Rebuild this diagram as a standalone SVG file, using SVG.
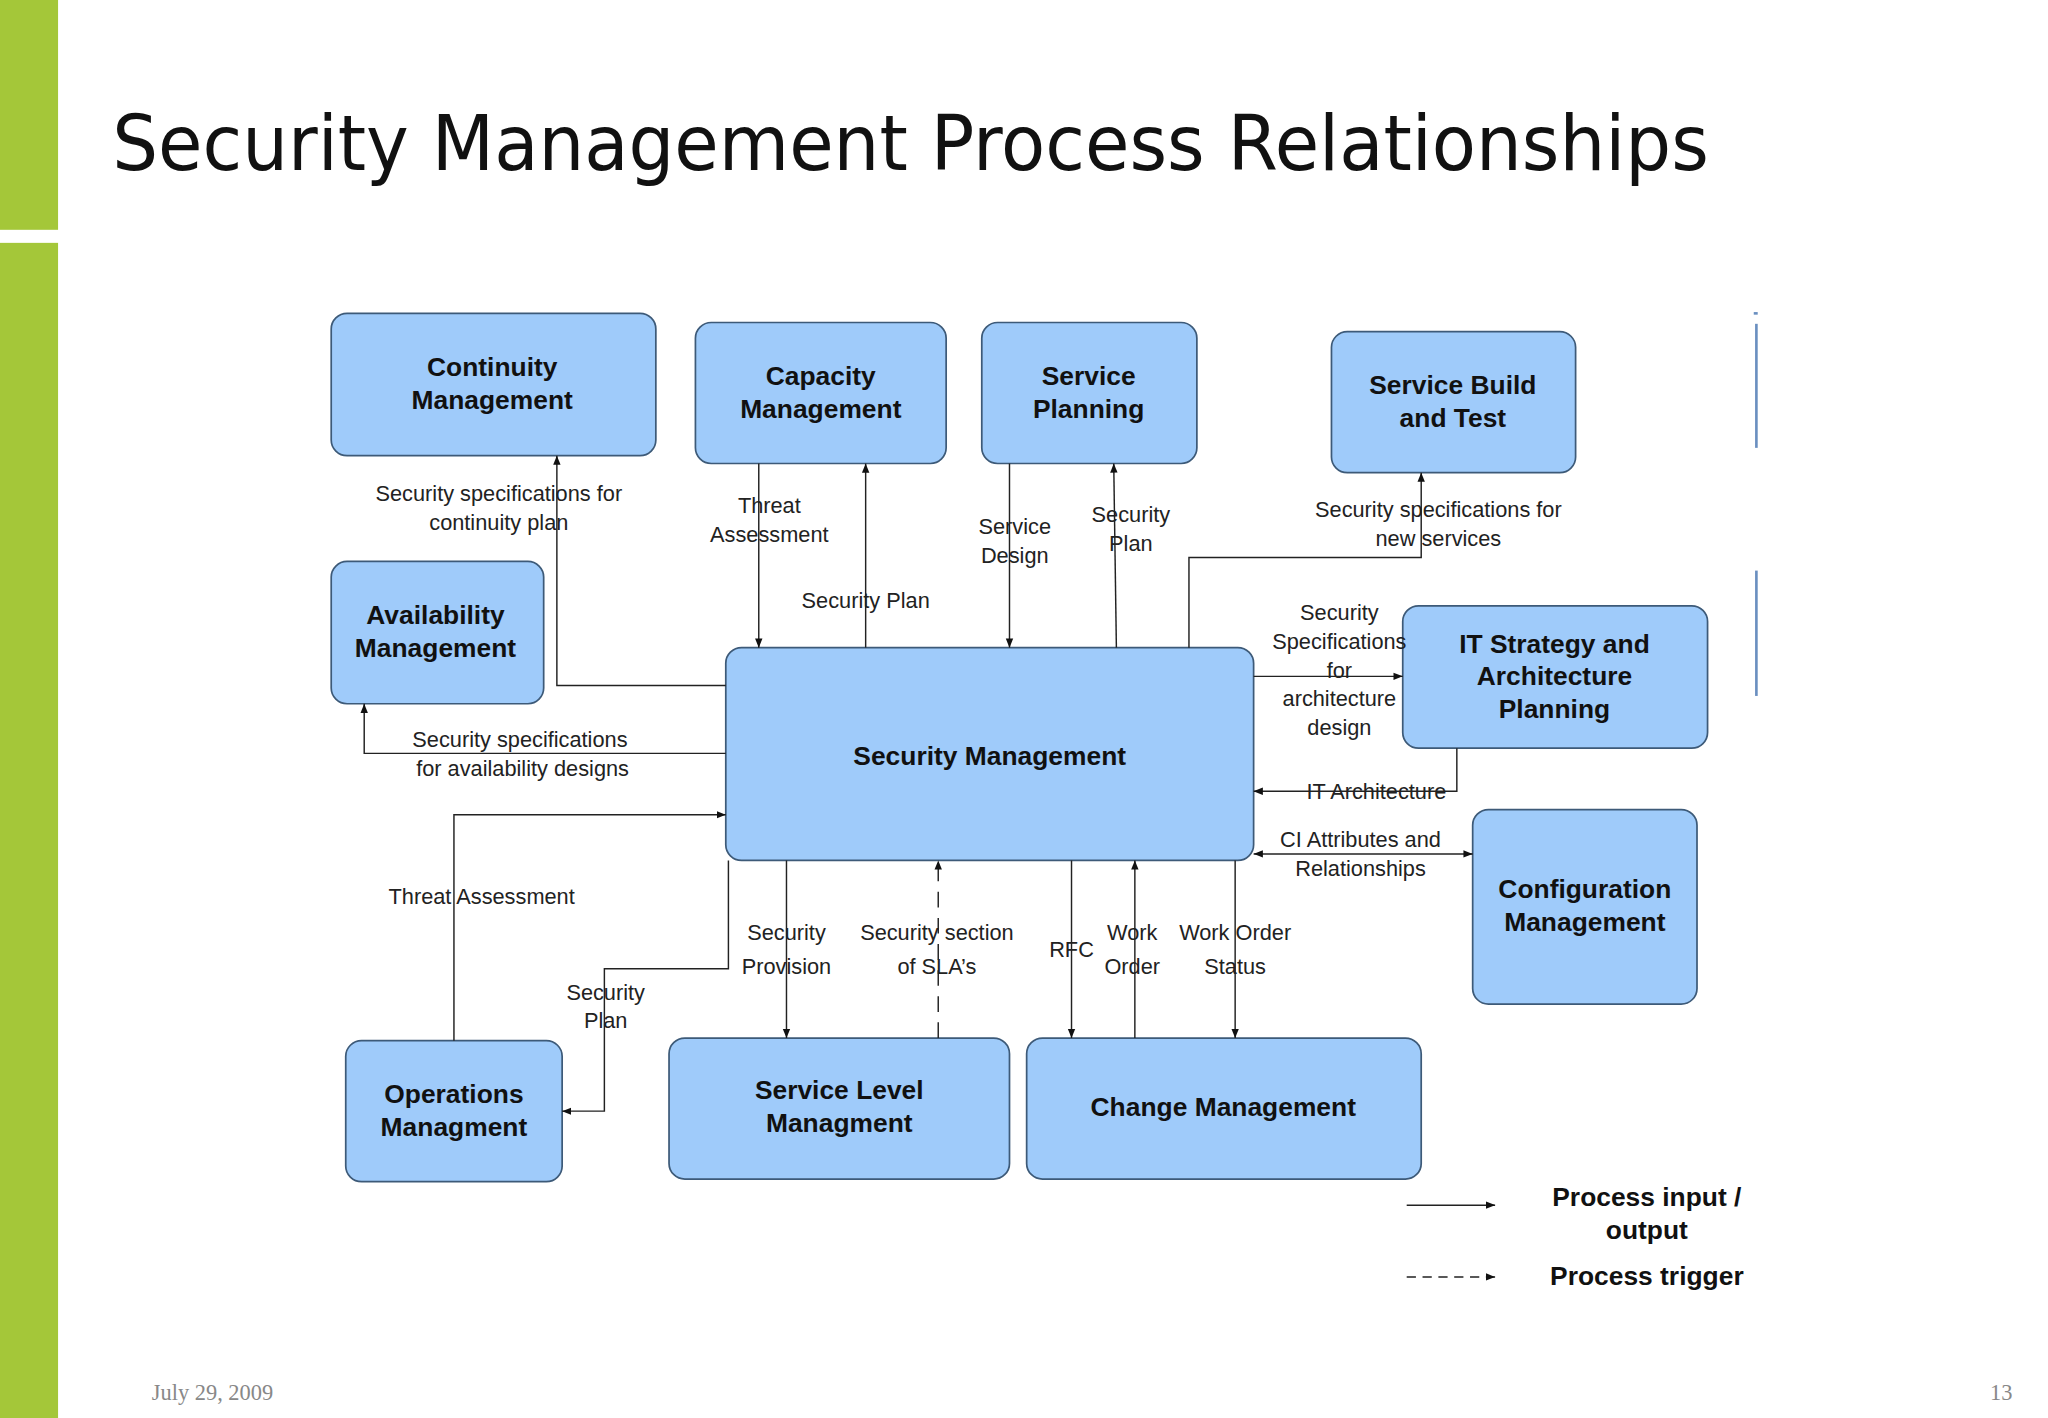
<svg xmlns="http://www.w3.org/2000/svg" width="2048" height="1418" viewBox="0 0 2048 1418">
<defs>
<marker id="ar" viewBox="0 0 10 10" refX="10" refY="5" markerWidth="7" markerHeight="7" orient="auto-start-reverse" markerUnits="userSpaceOnUse"><path d="M0,1 L10,5 L0,9 z" fill="#111"/></marker>
<style>
.box{fill:#9fcbfa;stroke:#3d5a78;stroke-width:1.3}
.bt{font-family:"Liberation Sans",Arial,sans-serif;font-weight:bold;font-size:20px;fill:#111;text-anchor:middle}
.lb{font-family:"Liberation Sans",Arial,sans-serif;font-size:16.5px;fill:#222;text-anchor:middle}
.ln{fill:none;stroke:#222;stroke-width:1.1}
</style>
</defs>
<rect width="2048" height="1418" fill="#fff"/>
<g transform="scale(1.3196,1.3057)">
<rect x="0" y="0" width="44" height="176" fill="#a4c739"/>
<rect x="0" y="186" width="44" height="900" fill="#a4c739"/>
<text x="85" y="130" font-family="'DejaVu Sans',sans-serif" font-size="58" fill="#111" textLength="1210" lengthAdjust="spacingAndGlyphs">Security Management Process Relationships</text>
<text x="115" y="1072" font-family="'Liberation Serif',serif" font-size="17" fill="#888">July 29, 2009</text>
<text x="1508" y="1072" font-family="'Liberation Serif',serif" font-size="17" fill="#888">13</text>
<g stroke="#6a8fc0" stroke-width="2" fill="none"><path d="M1331,248 V343"/><path d="M1331,437 V533"/><path d="M1329,240 h3"/></g>

<g id="continuity"><rect class="box" x="251" y="240" width="246" height="109" rx="12"/><text class="bt" x="373" y="288">Continuity</text><text class="bt" x="373" y="313">Management</text></g>
<g id="capacity"><rect class="box" x="527" y="247" width="190" height="108" rx="12"/><text class="bt" x="622" y="295">Capacity</text><text class="bt" x="622" y="320">Management</text></g>
<g id="planning"><rect class="box" x="744" y="247" width="163" height="108" rx="12"/><text class="bt" x="825" y="295">Service</text><text class="bt" x="825" y="320">Planning</text></g>
<g id="build"><rect class="box" x="1009" y="254" width="185" height="108" rx="12"/><text class="bt" x="1101" y="302">Service Build</text><text class="bt" x="1101" y="327">and Test</text></g>
<g id="availability"><rect class="box" x="251" y="430" width="161" height="109" rx="12"/><text class="bt" x="330" y="478">Availability</text><text class="bt" x="330" y="503">Management</text></g>
<g id="secmgmt"><rect class="box" x="550" y="496" width="400" height="163" rx="12"/><text class="bt" x="750" y="586" font-size="26">Security Management</text></g>
<g id="itstrategy"><rect class="box" x="1063" y="464" width="231" height="109" rx="12"/><text class="bt" x="1178" y="500">IT Strategy and</text><text class="bt" x="1178" y="525">Architecture</text><text class="bt" x="1178" y="550">Planning</text></g>
<g id="config"><rect class="box" x="1116" y="620" width="170" height="149" rx="12"/><text class="bt" x="1201" y="688">Configuration</text><text class="bt" x="1201" y="713">Management</text></g>
<g id="operations"><rect class="box" x="262" y="797" width="164" height="108" rx="12"/><text class="bt" x="344" y="845">Operations</text><text class="bt" x="344" y="870">Managment</text></g>
<g id="slm"><rect class="box" x="507" y="795" width="258" height="108" rx="12"/><text class="bt" x="636" y="842">Service Level</text><text class="bt" x="636" y="867">Managment</text></g>
<g id="change"><rect class="box" x="778" y="795" width="299" height="108" rx="12"/><text class="bt" x="927" y="855">Change Management</text></g>

<g id="connectors">
<path class="ln" d="M550,525 H422 V349" marker-end="url(#ar)"/>
<path class="ln" d="M575,355 V496" marker-end="url(#ar)"/>
<path class="ln" d="M656,496 V355" marker-end="url(#ar)"/>
<path class="ln" d="M765,355 V496" marker-end="url(#ar)"/>
<path class="ln" d="M846,496 L844,355" marker-end="url(#ar)"/>
<path class="ln" d="M901,496 V427 H1077 V362" marker-end="url(#ar)"/>
<path class="ln" d="M950,518 H1063" marker-end="url(#ar)"/>
<path class="ln" d="M1104,573 V606 H950" marker-end="url(#ar)"/>
<path class="ln" d="M950,654 H1116" marker-start="url(#ar)" marker-end="url(#ar)"/>
<path class="ln" d="M550,577 H276 V539" marker-end="url(#ar)"/>
<path class="ln" d="M344,797 V624 H550" marker-end="url(#ar)"/>
<path class="ln" d="M552,659 V742 H458 V851 H426" marker-end="url(#ar)"/>
<path class="ln" d="M596,659 V795" marker-end="url(#ar)"/>
<path class="ln" d="M711,795 V659" stroke-dasharray="12,8" marker-end="url(#ar)"/>
<path class="ln" d="M812,659 V795" marker-end="url(#ar)"/>
<path class="ln" d="M860,795 V659" marker-end="url(#ar)"/>
<path class="ln" d="M936,659 V795" marker-end="url(#ar)"/>
</g>

<g id="labels">
<text class="lb" x="378" y="384">Security specifications for</text><text class="lb" x="378" y="406">continuity plan</text>
<text class="lb" x="583" y="393">Threat</text><text class="lb" x="583" y="415">Assessment</text>
<text class="lb" x="656" y="466">Security Plan</text>
<text class="lb" x="769" y="409">Service</text><text class="lb" x="769" y="431">Design</text>
<text class="lb" x="857" y="400">Security</text><text class="lb" x="857" y="422">Plan</text>
<text class="lb" x="1090" y="396">Security specifications for</text><text class="lb" x="1090" y="418">new services</text>
<text class="lb" x="1015" y="475">Security</text><text class="lb" x="1015" y="497">Specifications</text><text class="lb" x="1015" y="519">for</text><text class="lb" x="1015" y="541">architecture</text><text class="lb" x="1015" y="563">design</text>
<text class="lb" x="1043" y="612">IT Architecture</text>
<text class="lb" x="1031" y="649">CI Attributes and</text><text class="lb" x="1031" y="671">Relationships</text>
<text class="lb" x="394" y="572">Security specifications</text><text class="lb" x="396" y="594">for availability designs</text>
<text class="lb" x="365" y="692">Threat Assessment</text>
<text class="lb" x="459" y="766">Security</text><text class="lb" x="459" y="787">Plan</text>
<text class="lb" x="596" y="720" font-size="19">Security</text><text class="lb" x="596" y="746" font-size="19">Provision</text>
<text class="lb" x="710" y="720" font-size="19">Security section</text><text class="lb" x="710" y="746" font-size="19">of SLA’s</text>
<text class="lb" x="812" y="733" font-size="19">RFC</text>
<text class="lb" x="858" y="720" font-size="19">Work</text><text class="lb" x="858" y="746" font-size="19">Order</text>
<text class="lb" x="936" y="720" font-size="19">Work Order</text><text class="lb" x="936" y="746" font-size="19">Status</text>
</g>

<g id="legend">
<path class="ln" d="M1066,923 H1133" marker-end="url(#ar)"/>
<path class="ln" d="M1066,978 H1133" stroke-dasharray="7,5" marker-end="url(#ar)"/>
<text class="bt" x="1248" y="924">Process input /</text><text class="bt" x="1248" y="949">output</text>
<text class="bt" x="1248" y="984">Process trigger</text>
</g>
</g>
</svg>
